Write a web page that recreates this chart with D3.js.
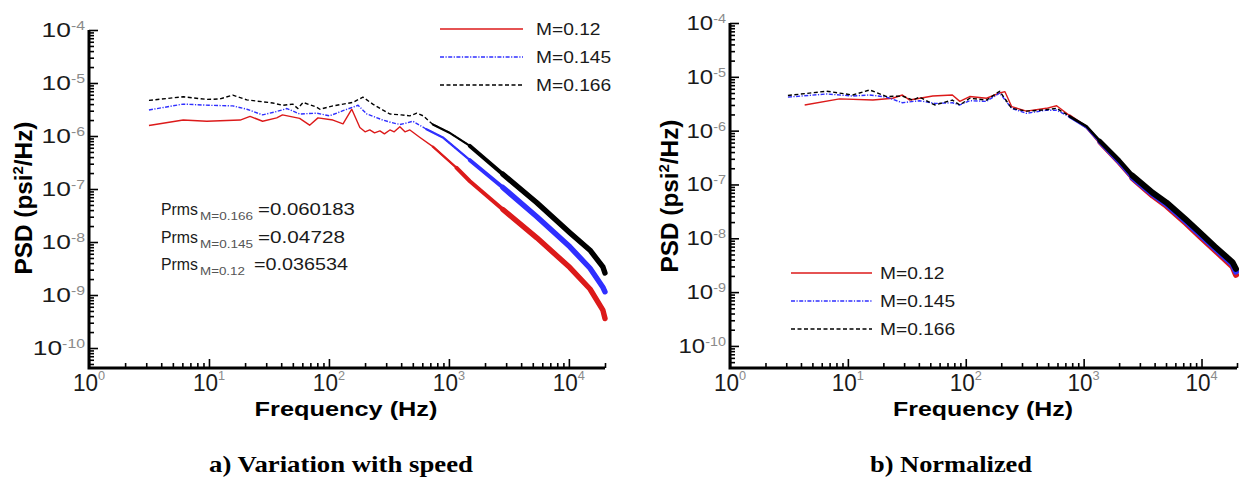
<!DOCTYPE html>
<html><head><meta charset="utf-8">
<script src="https://cdn.jsdelivr.net/npm/d3@7/dist/d3.min.js"></script>
<style>body{margin:0;background:#fff}svg{display:block}</style>
</head><body><div id="chart"></div>
<script>
// ---------------- data ----------------
const seriesNames = ["M=0.12", "M=0.145", "M=0.166"];
const yTickExps = [-10, -9, -8, -7, -6, -5, -4];
const xTickExps = [0, 1, 2, 3, 4];

// Panel a) Variation with speed
const aRedF   = [3.16,6.1,9.6,18.2,22,28,36.7,41,57,69,81,108,131,155,181,200,219,240,266,290,322,350,390,430,473,570,735,1160,1496,2818,5410,10190,15000,19200,20000];
const aRedP   = [1.58e-6,2.0e-6,1.9e-6,2.0e-6,2.35e-6,1.9e-6,2.2e-6,2.5e-6,2.15e-6,1.6e-6,2.2e-6,2.0e-6,1.7e-6,3.2e-6,1.45e-6,1.2e-6,1.3e-6,1.15e-6,1.25e-6,1.1e-6,1.3e-6,1.2e-6,1.5e-6,1.2e-6,1.3e-6,9.5e-7,6.3e-7,2.5e-7,1.4e-7,4.1e-8,1.2e-8,3.3e-9,1.3e-9,5.2e-10,3.6e-10];
const aBlueF  = [3.16,6.1,10,15.8,20.7,28,36.7,44.7,57,79,101,131,175,207,240,281,330,390,440,500,570,650,890,1496,2818,5410,10190,15000,19200,20000];
const aBlueP  = [3.1e-6,4.0e-6,3.8e-6,3.7e-6,3.2e-6,2.5e-6,2.9e-6,3.3e-6,2.6e-6,2.7e-6,2.4e-6,3.0e-6,3.8e-6,2.6e-6,2.3e-6,2.0e-6,1.8e-6,1.65e-6,1.75e-6,1.9e-6,1.6e-6,1.34e-6,9.4e-7,3.5e-7,1.07e-7,3.0e-8,8.1e-9,3.2e-9,1.4e-9,1.15e-9];
const aBlackF = [3.16,6.1,9.6,12.3,15.8,20.7,34,41,50,55,61,79,84,108,158,192,232,280,322,400,473,540,610,735,1000,1496,2818,5410,10190,15000,19200,20000];
const aBlackP = [4.7e-6,5.5e-6,4.9e-6,5.0e-6,5.9e-6,4.8e-6,4.2e-6,3.8e-6,4.0e-6,3.3e-6,4.3e-6,3.5e-6,3.2e-6,3.7e-6,4.3e-6,5.4e-6,4.0e-6,3.1e-6,2.6e-6,2.5e-6,2.4e-6,2.7e-6,2.4e-6,1.65e-6,1.17e-6,6.5e-7,1.9e-7,5.5e-8,1.5e-8,7e-9,3.4e-9,2.6e-9];

// Panel b) Normalized
const bRedF   = [4.3,8.5,16.3,24,29,33.5,52.5,77,89,108,150,194,215,245,327,483,590,760,1060,1368,2000,2600,3850,5050,7400,9620,13000,18300,19600];
const bRedP   = [3.0e-6,3.9e-6,3.7e-6,4.0e-6,4.6e-6,3.7e-6,4.4e-6,4.6e-6,3.5e-6,4.3e-6,4.0e-6,5.0e-6,5.3e-6,2.8e-6,2.3e-6,2.6e-6,2.9e-6,1.9e-6,1.15e-6,6e-7,2.5e-7,1.3e-7,6.2e-8,4.0e-8,1.9e-8,1.1e-8,6e-9,3.0e-9,2.1e-9];
const bBlueF  = [3.1,6.6,11,15.3,21.3,29,40.6,54.6,77,89,108,150,194,245,327,483,590,760,1060,1368,2000,2600,3850,5050,7400,9620,13000,18300,19600];
const bBlueP  = [4.2e-6,4.8e-6,4.4e-6,4.6e-6,4.2e-6,3.3e-6,3.6e-6,3.2e-6,3.3e-6,3.0e-6,3.6e-6,3.5e-6,5.0e-6,2.6e-6,2.1e-6,2.4e-6,2.4e-6,1.8e-6,1.15e-6,6.2e-7,2.6e-7,1.35e-7,6.6e-8,4.3e-8,2.05e-8,1.2e-8,6.5e-9,3.3e-9,2.4e-9];
const bBlackF = [3.1,6.6,11,15.3,21.3,29,35.5,40.6,54.6,77,89,108,150,194,245,327,483,590,760,1060,1368,2000,2600,3850,5050,7400,9620,13000,18300,19600];
const bBlackP = [4.5e-6,5.4e-6,4.6e-6,5.7e-6,4.3e-6,4.4e-6,3.7e-6,4.2e-6,3.0e-6,3.7e-6,3.0e-6,4.0e-6,3.7e-6,5.4e-6,2.6e-6,2.3e-6,2.45e-6,2.6e-6,1.85e-6,1.2e-6,6.5e-7,2.8e-7,1.45e-7,7e-8,4.6e-8,2.2e-8,1.3e-8,7e-9,3.6e-9,2.7e-9];

// annotation
const prmsLabels = ["M=0.166", "M=0.145", "M=0.12"];
const prmsValues = ["=0.060183", "=0.04728", "=0.036534"];

// ---------------- styles ----------------
const SANS = '"Liberation Sans", Arial, Helvetica, sans-serif';
const SERIF = '"Liberation Serif", "Times New Roman", serif';
const styles = [
  {color: "#dc1a1a", dash: null},
  {color: "#2f2fff", dash: "4,1.5,1.2,1.5"},
  {color: "#000000", dash: "4,2.5"}
];

const W = 1239, H = 480;
const svg = d3.select("#chart").append("svg").attr("width", W).attr("height", H);
svg.append("rect").attr("width", W).attr("height", H).attr("fill", "#fff");

// text helper: parts = [{s, size, fill, dy}]
function label(parent, x, y, parts, o) {
  const g = parent.append("g");
  const t = g.append("text")
    .attr("font-family", o.family || SANS)
    .attr("font-size", o.size)
    .attr("font-weight", o.weight || "normal")
    .attr("fill", o.fill || "#1a1a1a")
    .attr("text-anchor", o.anchor || "start")
    .attr("y", o.localY || 0);
  parts.forEach(p => {
    const ts = t.append("tspan").text(p.s);
    if (p.size) ts.attr("font-size", p.size);
    if (p.fill) ts.attr("fill", p.fill);
    if (p.dy) ts.attr("dy", p.dy);
  });
  let sx = o.sx || 1;
  if (o.width) sx = o.width / t.node().getComputedTextLength();
  g.attr("transform", `translate(${x},${y}) rotate(${o.rotate || 0}) scale(${sx},1)`);
  return g;
}

const panelA = {
  x0: 89, x1: 605, yTop: 30, yBot: 368, yMinLog: -10.377,
  series: [[aRedF, aRedP], [aBlueF, aBlueP], [aBlackF, aBlackP]],
  ylabSx: 1.32, yTitle: [24, 198], xTitleX: 346, xTitleW: 183,
  legend: {lx1: 440, lx2: 523, tx: 536, ys: [29, 57, 85], sx: 1.2},
  layers: [{f: 640, w: 2.2}, {f: 1100, w: 4.0}, {f: 2500, w: 5.4}],
  caption: {s: "a) Variation with speed", cx: 341, w: 264}
};
const panelB = {
  x0: 730, x1: 1237, yTop: 23, yBot: 368, yMinLog: -10.41,
  series: [[bRedF, bRedP], [bBlueF, bBlueP], [bBlackF, bBlackP]],
  ylabSx: 1.2, yTitle: [670, 196], xTitleX: 983, xTitleW: 180,
  legend: {lx1: 791, lx2: 872, tx: 880, ys: [273, 301, 329], sx: 1.2},
  layers: [{f: 700, w: 2.6}, {f: 1100, w: 4.4}, {f: 2500, w: 6.0}],
  caption: {s: "b) Normalized", cx: 951, w: 162}
};

function drawPanel(P) {
  const g = svg.append("g");
  const x = d3.scaleLog().domain([1, 2e4]).range([P.x0, P.x1]);
  const y = d3.scaleLog().domain([Math.pow(10, P.yMinLog), 1e-4]).range([P.yBot, P.yTop]);

  // ticks
  const yMaj = yTickExps.map(e => Math.pow(10, e));
  const yMin = [];
  for (let e = -11; e <= -5; e++) for (let k = 2; k <= 9; k++) {
    const v = k * Math.pow(10, e);
    if (v >= y.domain()[0] && v < 1e-4) yMin.push(v);
  }
  const xMaj = xTickExps.map(e => Math.pow(10, e));
  const xMin = [];
  for (let e = 0; e <= 4; e++) for (let k = 2; k <= 9; k++) {
    const v = k * Math.pow(10, e);
    if (v <= 2e4) xMin.push(v);
  }
  const tickStyle = s => { s.select(".domain").remove(); s.selectAll("line").attr("stroke", "#000").attr("stroke-width", 1.6); };
  g.append("g").attr("transform", `translate(${P.x0},0)`)
    .call(d3.axisLeft(y).tickValues(yMaj).tickSize(-9).tickFormat("")).call(tickStyle);
  g.append("g").attr("transform", `translate(${P.x0},0)`)
    .call(d3.axisLeft(y).tickValues(yMin).tickSize(-5).tickFormat("")).call(tickStyle);
  g.append("g").attr("transform", `translate(0,${P.yBot})`)
    .call(d3.axisBottom(x).tickValues(xMaj).tickSize(-9).tickFormat("")).call(tickStyle);
  g.append("g").attr("transform", `translate(0,${P.yBot})`)
    .call(d3.axisBottom(x).tickValues(xMin).tickSize(-5).tickFormat("")).call(tickStyle);

  // curves
  const line = d3.line().x(d => x(d[0])).y(d => y(d[1]));
  P.series.forEach((sr, i) => {
    const pts = d3.zip(sr[0], sr[1]);
    const st = styles[i];
    g.append("path").attr("d", line(pts)).attr("fill", "none")
      .attr("stroke", st.color).attr("stroke-width", 1.4)
      .attr("stroke-dasharray", st.dash).attr("stroke-linejoin", "round");
    P.layers.forEach(L => {
      const sub = pts.filter(d => d[0] >= L.f);
      g.append("path").attr("d", line(sub)).attr("fill", "none")
        .attr("stroke", st.color).attr("stroke-width", L.w)
        .attr("stroke-linejoin", "round").attr("stroke-linecap", "round");
    });
  });

  // axis lines
  g.append("path")
    .attr("d", `M${P.x0},${y(1e-4)}V${P.yBot}H${x(2e4)}`)
    .attr("fill", "none").attr("stroke", "#000").attr("stroke-width", 3);

  // y tick labels
  yTickExps.forEach(e => {
    const ty = y(Math.pow(10, e));
    label(g, P.x0 - 4, ty + 7, [{s: "10"}, {s: String(e), size: 12, fill: "#8a8a8a", dy: -7}],
      {size: 20, anchor: "end", sx: P.ylabSx, fill: "#1a1a1a"});
  });
  // x tick labels
  xTickExps.forEach(e => {
    const tx = x(Math.pow(10, e));
    label(g, tx, P.yBot + 23, [{s: "10"}, {s: String(e), size: 13, fill: "#8a8a8a", dy: -11}],
      {size: 23, anchor: "middle", sx: 0.98, fill: "#1a1a1a"});
  });

  // axis titles
  label(g, P.yTitle[0], P.yTitle[1], [{s: "PSD (psi"}, {s: "2", size: 14, dy: -9}, {s: "/Hz)", dy: 9}],
    {size: 23, weight: "bold", anchor: "middle", rotate: -90, width: 153, localY: 8, fill: "#000"});
  label(g, P.xTitleX, 416, [{s: "Frequency (Hz)"}],
    {size: 21, weight: "bold", anchor: "middle", width: P.xTitleW, fill: "#000"});

  // legend
  seriesNames.forEach((nm, i) => {
    const ly = P.legend.ys[i];
    g.append("line").attr("x1", P.legend.lx1).attr("x2", P.legend.lx2)
      .attr("y1", ly).attr("y2", ly)
      .attr("stroke", styles[i].color).attr("stroke-width", 1.4)
      .attr("stroke-dasharray", styles[i].dash);
    label(g, P.legend.tx, ly + 6, [{s: nm}], {size: 16, sx: P.legend.sx, fill: "#1a1a1a"});
  });

  // caption
  label(g, P.caption.cx, 472, [{s: P.caption.s}],
    {size: 23, weight: "bold", family: SERIF, anchor: "middle", width: P.caption.w, fill: "#000"});
}

drawPanel(panelA);
drawPanel(panelB);

// Prms annotation (panel a)
const ann = svg.append("g");
const annRows = [215, 243, 270];
const annSubW = [53, 53, 45];
const annValX = [258, 258, 254];
const annValW = [97, 87, 94];
prmsLabels.forEach((lab, i) => {
  label(ann, 161, annRows[i], [{s: "Prms"}], {size: 17, width: 37});
  label(ann, 200, annRows[i] + 5, [{s: lab}], {size: 11, width: annSubW[i], fill: "#555"});
  label(ann, annValX[i], annRows[i], [{s: prmsValues[i]}], {size: 17, width: annValW[i]});
});
</script>
</body></html>
